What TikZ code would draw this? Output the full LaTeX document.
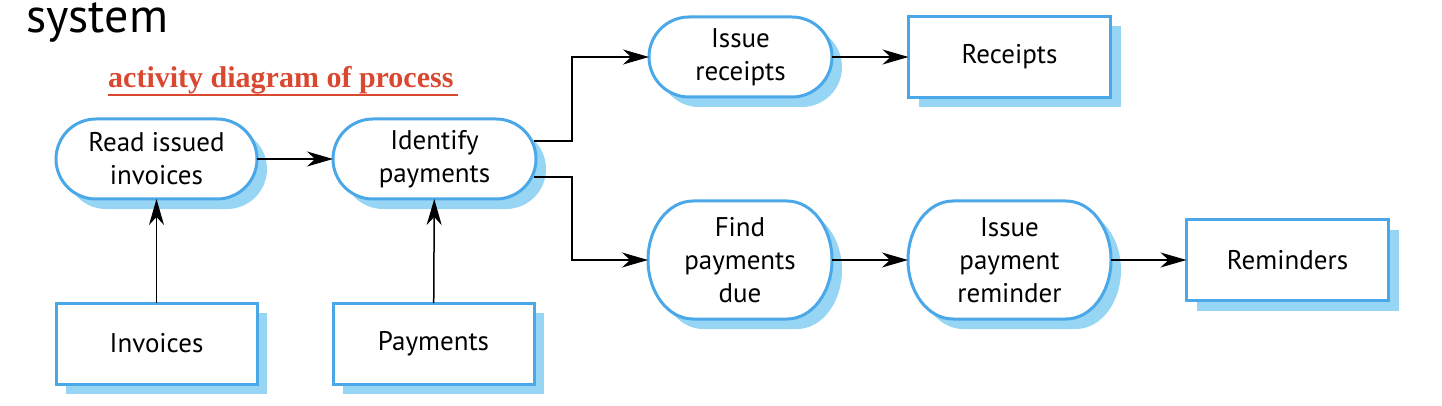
\documentclass[tikz,border=0pt]{standalone}
\usepackage{fontspec}
\setmainfont{PT Sans}
\newfontfamily\redfont{Liberation Serif}
\usetikzlibrary{arrows.meta,shadows,calc}
\definecolor{bord}{RGB}{75,168,232}
\definecolor{shad}{RGB}{150,213,243}
\definecolor{redt}{RGB}{217,72,48}
\newcommand\cappath[6]{(#1+#5,#2) -- (#3-#5,#2) .. controls (#3-#5+0.5523*#5,#2) and (#3,#2+#6-0.5523*#6) .. (#3,#2+#6) .. controls (#3,#2+#6+0.5523*#6) and (#3-#5+0.5523*#5,#4) .. (#3-#5,#4) -- (#1+#5,#4) .. controls (#1+#5-0.5523*#5,#4) and (#1,#2+#6+0.5523*#6) .. (#1,#2+#6) .. controls (#1,#2+#6-0.5523*#6) and (#1+#5-0.5523*#5,#2) .. (#1+#5,#2) -- cycle}
\newcommand\capnode[7]{%
  \pgfmathsetmacro\capry{(#5-#3)/2}%
  \fill[shad,shift={(10,10)}] \cappath{#2}{#3}{#4}{#5}{#6}{\capry};
  \draw[bord,line width=3pt,fill=white] \cappath{#2}{#3}{#4}{#5}{#6}{\capry};
  \node[txt,minimum width={#4-#2},minimum height={#5-#3}] (#1) at ({(#2+#4)/2},{(#3+#5)/2}) {#7};
}
\tikzset{
  txt/.style={font=\fontsize{27}{33}\selectfont,align=center,inner sep=0pt,outer sep=0pt},
  datanode/.style={txt,draw=bord,line width=3pt,fill=white,minimum width=202pt,minimum height=81pt,
    drop shadow={shadow xshift=10pt,shadow yshift=-10pt,fill=shad,opacity=1}},
  arr/.style={line width=1.5pt,-{Stealth[length=26pt,width=15pt,inset=8pt]}}
}
\begin{document}
\begin{tikzpicture}[x=1pt,y=-1pt]
\useasboundingbox (0,0) rectangle (1442,406);
\node[font=\fontsize{48}{58}\selectfont,anchor=base west,inner sep=0pt] (sys) at (26,33) {system};
\node[font=\redfont\bfseries\fontsize{30}{36}\selectfont,text=redt,anchor=base west,inner sep=0pt] (title) at (108,88) {activity diagram of process};
\draw[redt,line width=2pt] ($(title.base west)+(0,7)$) -- ($(title.base east)+(4,7)$);

\capnode{read}{56}{119}{257}{199}{40}{Read issued\\invoices}
\capnode{ident}{333}{119}{536}{199}{40}{Identify\\payments}
\capnode{irec}{649}{17}{832}{97}{40}{Issue\\receipts}
\capnode{find}{648}{201}{832}{319}{45}{Find\\payments\\due}
\capnode{ipr}{908}{201}{1111}{319}{45}{Issue\\payment\\reminder}

\node[datanode] (receipts) at (1009.5,57) {Receipts};
\node[datanode] (remind) at (1287.5,260) {Reminders};
\node[datanode,minimum width=201pt] (inv) at (156.5,343.5) {Invoices};
\node[datanode,minimum width=201pt] (pay) at (433.5,343.5) {Payments};

\draw[arr] (read) -- (ident);
\draw[arr] (inv) -- (read);
\draw[arr] (pay) -- (ident);
\draw[arr] ($(ident.east)+(-2,-18)$) -- ++(38,0) |- (irec);
\draw[arr] ($(ident.east)+(-2,18)$) -- ++(38,0) |- (find);
\draw[arr] (irec) -- (receipts);
\draw[arr] (find) -- (ipr);
\draw[arr] (ipr) -- (remind);
\end{tikzpicture}
\end{document}
